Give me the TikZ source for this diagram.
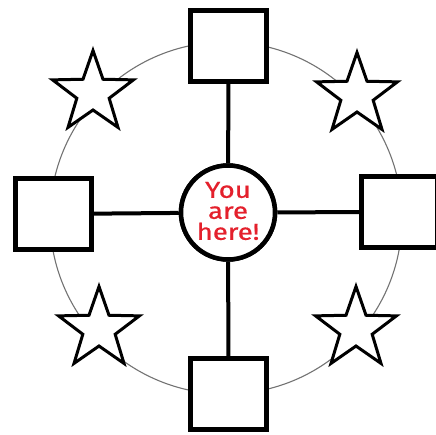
\documentclass[tikz,border=0pt]{standalone}
\usepackage{fontspec}
\setmainfont{Fira Sans}
\usetikzlibrary{shapes.geometric}
\definecolor{herered}{RGB}{228,32,44}
\begin{document}
\begin{tikzpicture}[x=1pt,y=-1pt,
  boxnode/.style={draw=black,fill=white,line width=5pt,rectangle,inner sep=0pt,minimum width=76pt,minimum height=71pt},
  starnode/.style={draw=black,fill=white,line width=3pt,star,star points=5,star point ratio=2.5,inner sep=0pt,minimum size=85pt},
  hub/.style={draw=black,fill=white,line width=4.5pt,circle,inner sep=0pt,minimum size=94pt},
  link/.style={draw=black,line width=4pt},
  ring/.style={draw=black!55,line width=1.1pt}]
\useasboundingbox (0,0) rectangle (436,434);
\clip (0,0) rectangle (436,434);
\draw[ring] (226,218) circle[radius=176];
\node[hub] (c) at (228,212.5) {};
\node[boxnode] (t) at (228.5,46) {};
\node[boxnode] (b) at (228.5,394) {};
\node[boxnode] (l) at (53,214) {};
\node[boxnode] (r) at (399.5,212) {};
\draw[link] (c) -- (t);
\draw[link] (c) -- (b);
\draw[link] (c) -- (l);
\draw[link] (c) -- (r);
\node[starnode] (s1) at (93,93) {};
\node[starnode] (s2) at (357,95) {};
\node[starnode] (s3) at (99,329) {};
\node[starnode] (s4) at (356,329) {};
\node[hub] (c2) at (228,212.5) {};
\node[text=herered,font=\fontsize{23}{21}\selectfont\addfontfeature{FakeBold=0.6},align=center,inner sep=0pt,xscale=1.2] (txt) at (228,211) {You\\are\\here!};
\end{tikzpicture}
\end{document}
